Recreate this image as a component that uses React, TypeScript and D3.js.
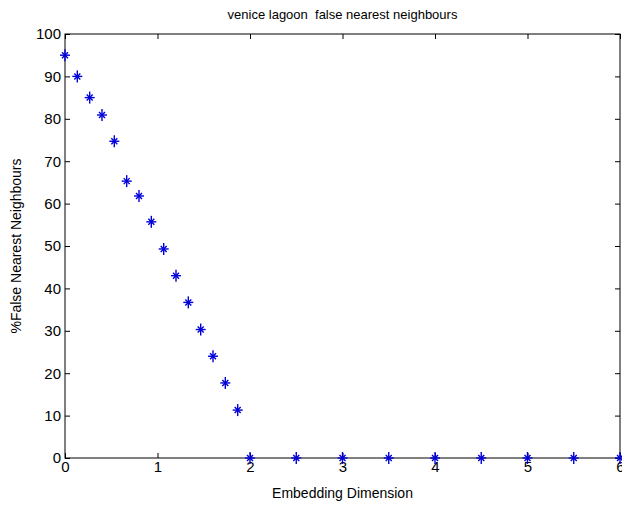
import React, { useEffect, useRef } from "react";
import * as d3 from "d3";

// embedding dimension (x) and % false nearest neighbours (y)
const dims = [
  0, 0.133, 0.267, 0.4, 0.533, 0.667, 0.8, 0.933, 1.067, 1.2, 1.333, 1.467,
  1.6, 1.733, 1.867, 2, 2.5, 3, 3.5, 4, 4.5, 5, 5.5, 6,
];
const fnn = [
  95, 90, 85, 80.9, 74.7, 65.3, 61.8, 55.7, 49.3, 43, 36.7, 30.3, 24, 17.7,
  11.3, 0, 0, 0, 0, 0, 0, 0, 0, 0,
];
const xTicks = [0, 1, 2, 3, 4, 5, 6];
const yTicks = [0, 10, 20, 30, 40, 50, 60, 70, 80, 90, 100];

const title = "venice lagoon  false nearest neighbours";
const xLabel = "Embedding Dimension";
const yLabel = "%False Nearest Neighbours";

const App = () => {
  const dimensions = { width: 622, height: 505 };
  const margin = { top: 34, right: 2, bottom: 47, left: 65 };

  const graph = {
    width: dimensions.width - margin.left - margin.right,
    height: dimensions.height - margin.top - margin.bottom,
    ref: useRef<SVGGElement>(null),
  };

  const scales = {
    x: d3.scaleLinear().domain([0, 6]).range([0, graph.width]),
    y: d3.scaleLinear().domain([0, 100]).range([graph.height, 0]),
  };

  const axis = {
    bottom: useRef<SVGGElement>(null),
    top: useRef<SVGGElement>(null),
    left: useRef<SVGGElement>(null),
    right: useRef<SVGGElement>(null),
  };

  useEffect(() => {
    const style = (sel) => {
      sel.select(".domain").remove();
      sel.selectAll("line").attr("stroke", "#000");
      sel
        .selectAll("text")
        .attr("fill", "#000")
        .attr("font-family", "Liberation Sans, Arial, sans-serif")
        .attr("font-size", 15);
    };

    d3.select(axis.bottom.current)
      .call(d3.axisBottom(scales.x).tickValues(xTicks).tickSizeInner(-5).tickPadding(3).tickFormat(d3.format("d")))
      .call(style);
    d3.select(axis.top.current)
      .call(d3.axisTop(scales.x).tickValues(xTicks).tickSizeInner(-5).tickFormat(() => ""))
      .call(style);
    d3.select(axis.left.current)
      .call(d3.axisLeft(scales.y).tickValues(yTicks).tickSizeInner(-5).tickPadding(4).tickFormat(d3.format("d")))
      .call(style);
    d3.select(axis.right.current)
      .call(d3.axisRight(scales.y).tickValues(yTicks).tickSizeInner(-5).tickFormat(() => ""))
      .call(style);

    // markers: matlab style asterisk
    const pts = dims.map((d, i) => ({ x: dims[i], y: fnn[i] }));
    const g = d3.select(graph.ref.current);
    g.selectAll("g.marker").remove();
    const m = g
      .selectAll("g.marker")
      .data(pts)
      .enter()
      .append("g")
      .attr("class", "marker")
      .attr("transform", (d) => `translate(${scales.x(d.x)},${scales.y(d.y)})`)
      .attr("stroke", "#0000d8")
      .attr("stroke-width", 1.4);
    m.append("line").attr("x1", -5).attr("x2", 5).attr("y1", 0).attr("y2", 0);
    m.append("line").attr("x1", 0).attr("x2", 0).attr("y1", -6).attr("y2", 6);
    m.append("line").attr("x1", -3).attr("x2", 3).attr("y1", -3).attr("y2", 3);
    m.append("line").attr("x1", -3).attr("x2", 3).attr("y1", 3).attr("y2", -3);
  }, []);

  const font = "Liberation Sans, Arial, sans-serif";

  return (
    <svg
      width={dimensions.width}
      height={dimensions.height}
      style={{ position: "absolute", left: 0, top: 0, background: "#fff" }}
    >
      <g transform={`translate(${margin.left}, ${margin.top})`}>
        <rect
          x={0}
          y={0}
          width={graph.width}
          height={graph.height}
          fill="#fff"
          stroke="#000"
          strokeWidth={1}
        />
        <g ref={axis.bottom} transform={`translate(0, ${graph.height})`} />
        <g ref={axis.top} />
        <g ref={axis.left} />
        <g ref={axis.right} transform={`translate(${graph.width}, 0)`} />
        <g ref={graph.ref} />
      </g>
      <text
        x={margin.left + graph.width / 2}
        y={19}
        textAnchor="middle"
        fontFamily={font}
        fontSize={13}
        style={{ whiteSpace: "pre" }}
      >
        {title}
      </text>
      <text
        x={margin.left + graph.width / 2}
        y={498}
        textAnchor="middle"
        fontFamily={font}
        fontSize={14}
      >
        {xLabel}
      </text>
      <text
        transform={`translate(21, ${margin.top + graph.height / 2}) rotate(-90)`}
        textAnchor="middle"
        fontFamily={font}
        fontSize={14}
      >
        {yLabel}
      </text>
    </svg>
  );
};

export default App;
